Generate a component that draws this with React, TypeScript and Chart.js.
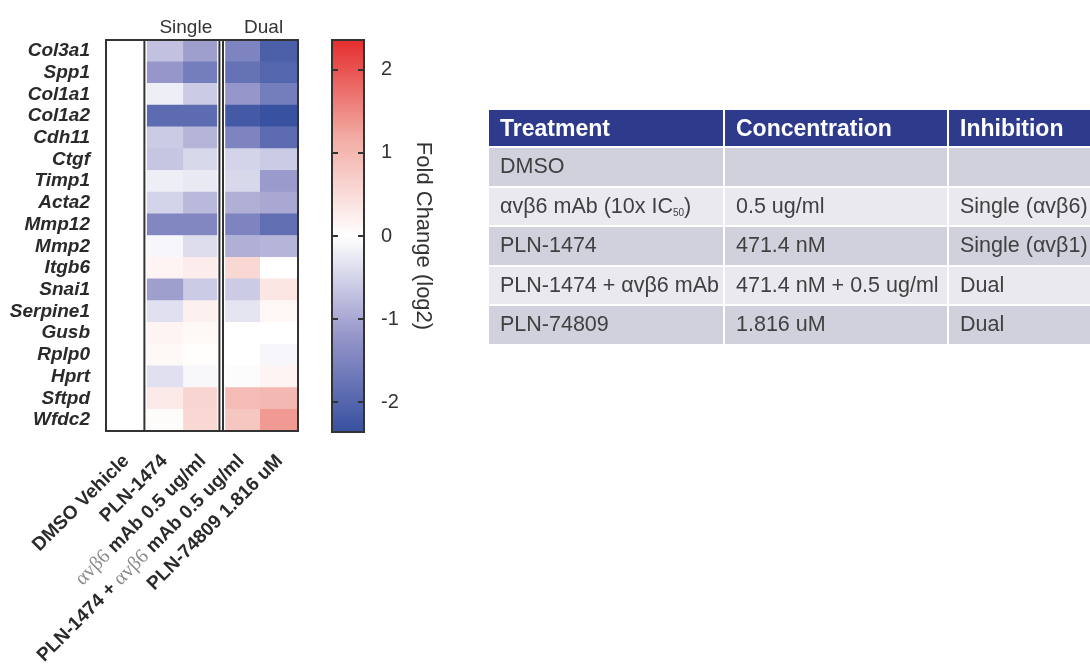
import React, { useEffect, useRef } from "react";
import { Chart, registerables } from "chart.js";
Chart.register(...registerables);

const FONT = '"Liberation Sans", Arial, Helvetica, sans-serif';
const SERIF = '"Liberation Serif", "DejaVu Serif", serif';

const genes = [
  "Col3a1", "Spp1", "Col1a1", "Col1a2", "Cdh11", "Ctgf", "Timp1", "Acta2", "Mmp12",
  "Mmp2", "Itgb6", "Snai1", "Serpine1", "Gusb", "Rplp0", "Hprt", "Sftpd", "Wfdc2",
];
const columns = [
  "DMSO Vehicle",
  "PLN-1474",
  "αvβ6 mAb 0.5 ug/ml",
  "PLN-1474 + αvβ6 mAb 0.5 ug/ml",
  "PLN-74809 1.816 uM",
];
const dmsoVehicle = [0, 0, 0, 0, 0, 0, 0, 0, 0, 0, 0, 0, 0, 0, 0, 0, 0, 0];
const pln1474 = [-0.7, -1.2, -0.2, -1.9, -0.6, -0.65, -0.2, -0.5, -1.45, -0.1, 0.15, -1.1, -0.35, 0.15, 0.1, -0.35, 0.3, 0.05];
const avb6mAb = [-1.1, -1.6, -0.6, -1.9, -0.85, -0.45, -0.25, -0.8, -1.45, -0.4, 0.25, -0.6, 0.2, 0.1, 0.02, -0.08, 0.6, 0.55];
const pln1474PlusMAb = [-1.5, -1.8, -1.2, -2.2, -1.5, -0.5, -0.45, -0.9, -1.5, -0.9, 0.55, -0.6, -0.3, 0, 0, -0.04, 0.95, 0.8];
const pln74809 = [-2.1, -2.0, -1.6, -2.35, -1.9, -0.6, -1.15, -1.0, -1.85, -0.85, 0, 0.35, 0.12, 0, -0.1, 0.15, 1.0, 1.35];
const seriesList = [dmsoVehicle, pln1474, avb6mAb, pln1474PlusMAb, pln74809];

const groupLabels = ["Single", "Dual"];
const colorbarTicks = [-2, -1, 0, 1, 2];
const colorMin = -2.36;
const colorMax = 2.36;
const colorbarTitle = "Fold Change (log2)";

const tableHeaders = ["Treatment", "Concentration", "Inhibition"];
const tableTreatments = ["DMSO", "αvβ6 mAb (10x IC|50|)", "PLN-1474", "PLN-1474 + αvβ6 mAb", "PLN-74809"];
const tableConcentrations = ["", "0.5 ug/ml", "471.4 nM", "471.4 nM + 0.5 ug/ml", "1.816 uM"];
const tableInhibitions = ["", "Single (αvβ6)", "Single (αvβ1)", "Dual", "Dual"];

const colorStops: [number, number[]][] = [
  [-2.36, [55, 80, 160]],
  [-1.2, [150, 150, 202]],
  [0, [255, 255, 255]],
  [1.2, [242, 170, 162]],
  [2.36, [228, 45, 45]],
];

function colorFor(v: number): string {
  const c = Math.max(colorMin, Math.min(colorMax, v));
  for (let i = 0; i < colorStops.length - 1; i++) {
    const [a, ca] = colorStops[i];
    const [b, cb] = colorStops[i + 1];
    if (c >= a && c <= b) {
      const t = (c - a) / (b - a);
      const r = ca.map((x, k) => Math.round(x + (cb[k] - x) * t));
      return `rgb(${r[0]},${r[1]},${r[2]})`;
    }
  }
  return "#fff";
}

const heatmapPlugin = {
  id: "heatmapDecor",
  afterDraw(chart: any) {
    const { ctx, chartArea: a, scales } = chart;
    const xs = scales.x;
    ctx.save();
    const x1 = xs.getPixelForValue(1);
    const x3 = xs.getPixelForValue(3);
    ctx.fillStyle = "#fff";
    ctx.fillRect(x1 - 2.5, a.top, 5, a.bottom - a.top);
    ctx.fillRect(x3 - 4, a.top, 8, a.bottom - a.top);
    ctx.strokeStyle = "#333";
    ctx.lineWidth = 2;
    ctx.beginPath();
    ctx.moveTo(x1, a.top);
    ctx.lineTo(x1, a.bottom);
    ctx.moveTo(x3 - 1.8, a.top);
    ctx.lineTo(x3 - 1.8, a.bottom);
    ctx.moveTo(x3 + 1.8, a.top);
    ctx.lineTo(x3 + 1.8, a.bottom);
    ctx.stroke();
    ctx.strokeRect(a.left, a.top, a.right - a.left, a.bottom - a.top);

    ctx.fillStyle = "#333";
    ctx.font = `19px ${FONT}`;
    ctx.textAlign = "center";
    ctx.textBaseline = "alphabetic";
    ctx.fillText(groupLabels[0], xs.getPixelForValue(2) + 3, 33);
    ctx.fillText(groupLabels[1], xs.getPixelForValue(4) + 4, 33);

    columns.forEach((label, i) => {
      const parts = label.split(/(αvβ6)/).filter((p) => p.length);
      const styled = parts.map((p) => ({
        text: p,
        font: p === "αvβ6" ? `20px ${SERIF}` : `bold 19px ${FONT}`,
        color: p === "αvβ6" ? "#8a8a8a" : "#2a2a2a",
      }));
      let total = 0;
      const widths = styled.map((s) => {
        ctx.font = s.font;
        const w = ctx.measureText(s.text).width;
        total += w;
        return w;
      });
      const cx = xs.getPixelForValue(i + 0.5);
      ctx.save();
      ctx.translate(cx + 1, a.bottom + 27);
      ctx.rotate(-Math.PI / 4);
      ctx.textAlign = "left";
      ctx.textBaseline = "middle";
      let x = -total;
      styled.forEach((s, k) => {
        ctx.font = s.font;
        ctx.fillStyle = s.color;
        ctx.fillText(s.text, x, 0);
        x += widths[k];
      });
      ctx.restore();
    });
    ctx.restore();
  },
};

const colorbarPlugin = {
  id: "colorbarDecor",
  afterDraw(chart: any) {
    const { ctx, chartArea: a, scales } = chart;
    ctx.save();
    ctx.strokeStyle = "#333";
    ctx.lineWidth = 2;
    ctx.beginPath();
    colorbarTicks.forEach((v) => {
      const y = scales.y.getPixelForValue(v);
      ctx.moveTo(a.left, y);
      ctx.lineTo(a.left + 6, y);
      ctx.moveTo(a.right - 6, y);
      ctx.lineTo(a.right, y);
    });
    ctx.stroke();
    ctx.strokeRect(a.left, a.top, a.right - a.left, a.bottom - a.top);
    ctx.restore();
  },
};

function Heatmap() {
  const ref = useRef<HTMLCanvasElement>(null);
  useEffect(() => {
    const chart = new Chart(ref.current!, {
      type: "bar",
      data: {
        labels: genes,
        datasets: seriesList.map((vals, c) => ({
          label: columns[c],
          data: genes.map(() => [c, c + 1]) as any,
          backgroundColor: vals.map(colorFor),
          borderWidth: 0,
          barPercentage: 1,
          categoryPercentage: 1,
          grouped: false,
        })),
      },
      options: {
        indexAxis: "y",
        animation: false,
        responsive: false,
        layout: { padding: { top: 40, right: 22, left: 0, bottom: 0 } },
        plugins: { legend: { display: false }, tooltip: { enabled: false } },
        scales: {
          x: {
            type: "linear",
            min: 0,
            max: 5,
            ticks: { display: false },
            grid: { display: false },
            border: { display: false },
            afterFit: (s: any) => {
              s.height = 233;
            },
          },
          y: {
            type: "category",
            ticks: {
              font: { family: FONT, size: 19, weight: "bold", style: "italic" },
              color: "#2a2a2a",
              padding: 8,
              autoSkip: false,
            },
            grid: { display: false },
            border: { display: false },
            afterFit: (s: any) => {
              s.width = 106;
            },
          },
        },
      } as any,
      plugins: [heatmapPlugin],
    });
    return () => chart.destroy();
  }, []);
  return (
    <canvas
      ref={ref}
      width={320}
      height={664}
      style={{ position: "absolute", left: 0, top: 0, width: 320, height: 664 }}
    />
  );
}

function Colorbar() {
  const ref = useRef<HTMLCanvasElement>(null);
  useEffect(() => {
    const chart = new Chart(ref.current!, {
      type: "bar",
      data: {
        labels: ["scale"],
        datasets: [
          {
            data: [[colorMin, colorMax]] as any,
            backgroundColor: (ctx: any) => {
              const ch = ctx.chart;
              if (!ch.chartArea) return "#fff";
              const y = ch.scales.y;
              const g = ch.ctx.createLinearGradient(0, y.getPixelForValue(colorMax), 0, y.getPixelForValue(colorMin));
              colorStops.forEach(([v, rgb]) => {
                g.addColorStop((colorMax - v) / (colorMax - colorMin), `rgb(${rgb[0]},${rgb[1]},${rgb[2]})`);
              });
              return g;
            },
            borderWidth: 0,
            barPercentage: 1,
            categoryPercentage: 1,
          },
        ],
      },
      options: {
        animation: false,
        responsive: false,
        layout: { padding: { top: 40, left: 12, bottom: 232, right: 0 } },
        plugins: { legend: { display: false }, tooltip: { enabled: false } },
        scales: {
          x: { display: false },
          y: {
            position: "right",
            min: colorMin,
            max: colorMax,
            afterBuildTicks: (s: any) => {
              s.ticks = colorbarTicks.map((v) => ({ value: v }));
            },
            ticks: {
              font: { family: FONT, size: 20 },
              color: "#333",
              padding: 9,
              callback: (v: any) => String(v),
            },
            grid: { display: false },
            border: { display: false },
            title: {
              display: true,
              text: colorbarTitle,
              font: { family: FONT, size: 22 },
              color: "#333",
              padding: { top: 54, bottom: 0 },
            },
            afterFit: (s: any) => {
              s.width = 126;
            },
          },
        },
      } as any,
      plugins: [colorbarPlugin],
    });
    return () => chart.destroy();
  }, []);
  return (
    <canvas
      ref={ref}
      width={170}
      height={664}
      style={{ position: "absolute", left: 320, top: 0, width: 170, height: 664 }}
    />
  );
}

function renderTreatment(t: string) {
  const parts = t.split("|");
  if (parts.length === 3) {
    return (
      <>
        {parts[0]}
        <sub style={{ fontSize: 10, verticalAlign: "-3px" }}>{parts[1]}</sub>
        {parts[2]}
      </>
    );
  }
  return t;
}

function TreatmentTable() {
  const th: React.CSSProperties = {
    background: "#2e3a8c",
    color: "#fff",
    fontWeight: "bold",
    fontSize: 23,
    textAlign: "left",
    padding: "0 0 0 11px",
    height: 36,
    border: "2px solid #fff",
    whiteSpace: "nowrap",
  };
  const td = (i: number): React.CSSProperties => ({
    background: i % 2 === 0 ? "#d0d1dd" : "#e9e9ef",
    color: "#404040",
    fontSize: 21.5,
    textAlign: "left",
    padding: "0 0 0 11px",
    height: 37.5,
    border: "2px solid #fff",
    whiteSpace: "nowrap",
  });
  return (
    <table
      style={{
        position: "absolute",
        left: 487,
        top: 108,
        borderCollapse: "collapse",
        tableLayout: "fixed",
        width: 680,
        fontFamily: FONT,
      }}
    >
      <colgroup>
        <col style={{ width: 236 }} />
        <col style={{ width: 224 }} />
        <col style={{ width: 220 }} />
      </colgroup>
      <thead>
        <tr>
          {tableHeaders.map((h) => (
            <th key={h} style={th}>
              {h}
            </th>
          ))}
        </tr>
      </thead>
      <tbody>
        {tableTreatments.map((t, i) => (
          <tr key={i}>
            <td style={td(i)}>{renderTreatment(t)}</td>
            <td style={td(i)}>{tableConcentrations[i]}</td>
            <td style={td(i)}>{tableInhibitions[i]}</td>
          </tr>
        ))}
      </tbody>
    </table>
  );
}

export default function App() {
  return (
    <div
      style={{
        position: "fixed",
        left: 0,
        top: 0,
        width: 1090,
        height: 664,
        overflow: "hidden",
        background: "#fff",
      }}
    >
      <Heatmap />
      <Colorbar />
      <TreatmentTable />
    </div>
  );
}
